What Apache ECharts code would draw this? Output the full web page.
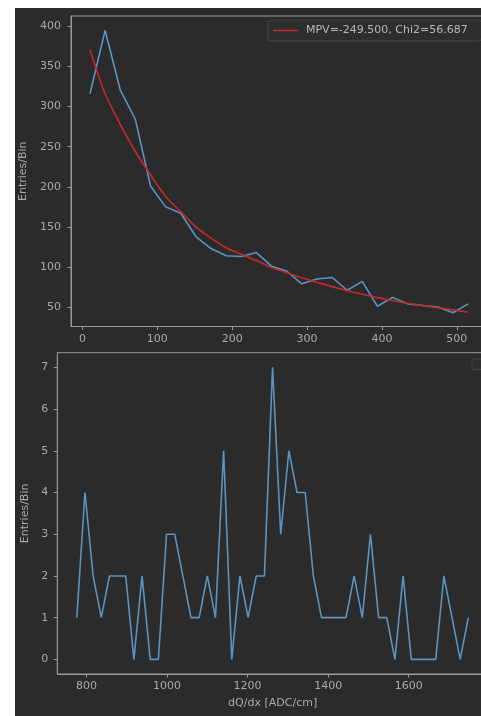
<!DOCTYPE html>
<html>
<head>
<meta charset="utf-8">
<script src="https://cdn.jsdelivr.net/npm/echarts@6/dist/echarts.min.js"></script>
<style>
html, body { margin:0; padding:0; background:#ffffff; overflow:hidden; width:481px; height:716px; }
#bg { position:absolute; left:15px; top:8px; width:480px; height:720px; background:#2b2b2b; }
#chart { position:absolute; left:0; top:0; width:500px; height:716px; }
</style>
</head>
<body>
<div id="bg"></div>
<div id="chart"></div>
<script>
// ---- Data ----
const topX = [10.1, 30.3, 50.5, 70.7, 90.9, 111.1, 131.3, 151.5, 171.7, 191.9, 212.1, 232.3, 252.5,
              272.7, 292.9, 313.1, 333.3, 353.5, 373.7, 393.9, 414.1, 434.3, 454.5, 474.7, 494.9, 515.1];
const topCounts = [316, 395, 321, 284, 201, 175, 167, 138, 123, 114, 113, 118, 101,
                   95, 79, 85, 87, 71, 82, 51, 62, 54, 52, 50, 43, 54];
const topFit = [371, 316, 278, 244, 215, 188, 169, 150, 136, 124, 116, 108, 99.5,
                93, 86.5, 81, 75.5, 70.5, 66, 61.8, 58, 54.8, 51.8, 49.2, 46.5, 43.6];
const fitLabel = 'MPV=-249.500, Chi2=56.687';
const topXTicks = [0, 100, 200, 300, 400, 500];
const topYTicks = [50, 100, 150, 200, 250, 300, 350, 400];

const botX = [776, 796.25, 816.5, 836.75, 857, 877.25, 897.5, 917.75, 938, 958.25, 978.5, 998.75,
              1019, 1039.25, 1059.5, 1079.75, 1100, 1120.25, 1140.5, 1160.75, 1181, 1201.25, 1221.5,
              1241.75, 1262, 1282.25, 1302.5, 1322.75, 1343, 1363.25, 1383.5, 1403.75, 1424, 1444.25,
              1464.5, 1484.75, 1505, 1525.25, 1545.5, 1565.75, 1586, 1606.25, 1626.5, 1646.75, 1667,
              1687.25, 1707.5, 1727.75, 1748];
const botCounts = [1, 4, 2, 1, 2, 2, 2, 0, 2, 0, 0, 3, 3, 2, 1, 1, 2, 1, 5, 0, 2, 1, 2, 2, 7, 3, 5, 4, 4,
                   2, 1, 1, 1, 1, 2, 1, 3, 1, 1, 0, 2, 0, 0, 0, 0, 2, 1, 0, 1];
const botXTicks = [800, 1000, 1200, 1400, 1600];
const botYTicks = [0, 1, 2, 3, 4, 5, 6, 7];
const yName = 'Entries/Bin';
const xName = 'dQ/dx [ADC/cm]';

// ---- Styles ----
const FONT = 'DejaVu Sans';
const TXT = '#aaaaaa';
const AX = '#999999';
const BLUE = '#5a93bf';
const RED = '#c4292c';

function axisCommon(ticks, labelMargin) {
  return {
    axisLine: { show: true, onZero: false, lineStyle: { color: AX, width: 1 } },
    axisTick: { show: true, inside: false, length: 3.5, customValues: ticks, lineStyle: { color: AX, width: 1 } },
    axisLabel: { show: true, customValues: ticks, margin: labelMargin, color: TXT, fontFamily: FONT, fontSize: 11,
                 formatter: function (v) { return String(v); } },
    splitLine: { show: false }
  };
}

const chart = echarts.init(document.getElementById('chart'), null, { renderer: 'canvas' });
chart.setOption({
  backgroundColor: 'transparent',
  animation: false,
  grid: [
    { left: 71, top: 16, width: 416, height: 310.5, show: true, borderColor: AX, borderWidth: 1, backgroundColor: 'transparent' },
    { left: 57.3, top: 352.7, width: 430.7, height: 321.3, show: true, borderColor: AX, borderWidth: 1, backgroundColor: 'transparent' }
  ],
  xAxis: [
    Object.assign({ type: 'value', gridIndex: 0, min: -15.25, max: 540.25 }, axisCommon(topXTicks, 7)),
    Object.assign({ type: 'value', gridIndex: 1, min: 727.6, max: 1796.8,
      name: xName, nameLocation: 'middle', nameGap: 24,
      nameTextStyle: { color: TXT, fontFamily: FONT, fontSize: 11 } }, axisCommon(botXTicks, 7))
  ],
  yAxis: [
    Object.assign({ type: 'value', gridIndex: 0, min: 25.8, max: 413,
      name: yName, nameLocation: 'middle', nameGap: 36,
      nameTextStyle: { color: TXT, fontFamily: FONT, fontSize: 11 } }, axisCommon(topYTicks, 10)),
    Object.assign({ type: 'value', gridIndex: 1, min: -0.35, max: 7.35,
      name: yName, nameLocation: 'middle', nameGap: 23,
      nameTextStyle: { color: TXT, fontFamily: FONT, fontSize: 11 } }, axisCommon(botYTicks, 9))
  ],
  legend: {
    data: [fitLabel],
    left: 268, top: 20,
    orient: 'horizontal',
    padding: [5, 14, 5, 5],
    backgroundColor: '#2e2e2e',
    borderColor: '#444444',
    borderWidth: 1,
    borderRadius: 3,
    icon: 'rect',
    itemWidth: 25,
    itemHeight: 1.6,
    textStyle: { color: '#b8b8b8', fontFamily: FONT, fontSize: 11, padding: [0, 0, 0, 3] }
  },
  graphic: [
    { type: 'rect', shape: { x: 472, y: 359, width: 16, height: 10.5, r: 2 },
      style: { fill: '#2e2e2e', stroke: '#444444', lineWidth: 1 }, z: 10 }
  ],
  series: [
    { type: 'line', name: 'counts', xAxisIndex: 0, yAxisIndex: 0,
      data: topX.map((x, i) => [x, topCounts[i]]),
      showSymbol: false, symbol: 'none', color: BLUE,
      lineStyle: { color: BLUE, width: 1.6 }, z: 2 },
    { type: 'line', name: fitLabel, xAxisIndex: 0, yAxisIndex: 0,
      data: topX.map((x, i) => [x, topFit[i]]),
      showSymbol: false, symbol: 'none', smooth: 0.3, color: RED,
      itemStyle: { color: RED },
      lineStyle: { color: RED, width: 1.6 }, z: 3 },
    { type: 'line', name: 'bottom', xAxisIndex: 1, yAxisIndex: 1,
      data: botX.map((x, i) => [x, botCounts[i]]),
      showSymbol: false, symbol: 'none', color: BLUE,
      lineStyle: { color: BLUE, width: 1.6 }, z: 2 }
  ]
});
</script>
</body>
</html>
